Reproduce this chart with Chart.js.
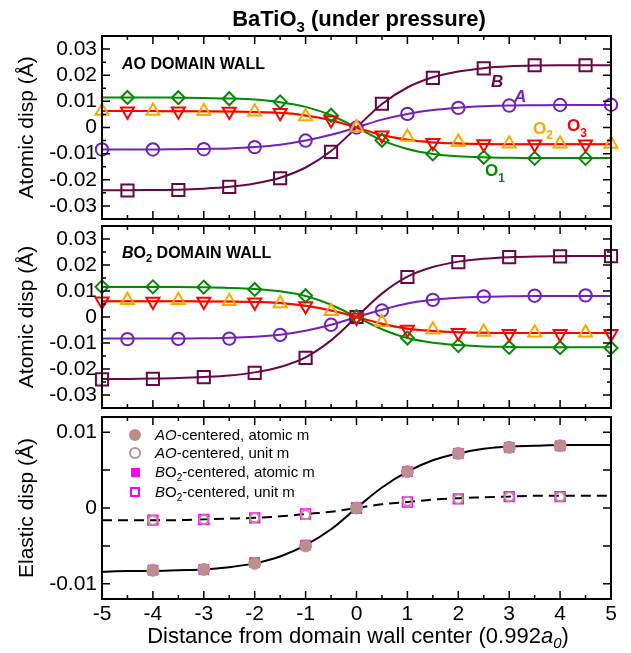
<!DOCTYPE html>
<html>
<head>
<meta charset="utf-8">
<script src="https://cdn.jsdelivr.net/npm/chart.js@4.4.0/dist/chart.umd.min.js"></script>
<style>
  html, body { margin: 0; padding: 0; background: #fff; }
  #wrap { position: relative; width: 631px; height: 653px; overflow: hidden; }
  #wrap canvas { position: absolute; left: 0; top: 0; }
  #labels { position: absolute; left: 0; top: 0; font-family: "Liberation Sans", Arial, Helvetica, sans-serif; }
</style>
</head>
<body>
<div id="wrap">
  <canvas id="panelAO" width="631" height="653"></canvas>
  <canvas id="panelBO2" width="631" height="653"></canvas>
  <canvas id="panelElastic" width="631" height="653"></canvas>
  <svg id="labels" width="631" height="653" xmlns="http://www.w3.org/2000/svg">
    <text x="359" y="26" text-anchor="middle" font-size="22" font-weight="bold">BaTiO<tspan font-size="15" dy="6">3</tspan><tspan dy="-6"> (under pressure)</tspan></text>

    <text x="122" y="69" font-size="16" font-weight="bold"><tspan font-style="italic">A</tspan>O DOMAIN WALL</text>
    <text x="491" y="87" font-size="17" font-weight="bold" font-style="italic" fill="#670748">B</text>
    <text x="514" y="102" font-size="17" font-weight="bold" font-style="italic" fill="#7221bc">A</text>
    <text x="533" y="134" font-size="17" font-weight="bold" fill="#ffa500">O<tspan font-size="12" dy="5">2</tspan></text>
    <text x="567" y="131" font-size="17" font-weight="bold" fill="#ff0000">O<tspan font-size="12" dy="6">3</tspan></text>
    <text x="485" y="176" font-size="17" font-weight="bold" fill="#008b00">O<tspan font-size="12" dy="6">1</tspan></text>

    <text x="122" y="258" font-size="16" font-weight="bold"><tspan font-style="italic">B</tspan>O<tspan font-size="11" dy="4">2</tspan><tspan dy="-4"> DOMAIN WALL</tspan></text>

    <circle cx="135" cy="435" r="6" fill="#bc8f8f"/>
    <circle cx="135" cy="453" r="5" fill="none" stroke="#bc8f8f" stroke-width="2"/>
    <rect x="131" y="468" width="9" height="9" fill="#ff00ff"/>
    <rect x="131" y="488" width="8" height="8" fill="none" stroke="#ff00ff" stroke-width="2"/>
    <text x="155" y="440" font-size="15"><tspan font-style="italic">AO</tspan>-centered, atomic m</text>
    <text x="155" y="458" font-size="15"><tspan font-style="italic">AO</tspan>-centered, unit m</text>
    <text x="155" y="477" font-size="15"><tspan font-style="italic">B</tspan>O<tspan font-size="10" dy="4">2</tspan><tspan dy="-4">-centered, atomic m</tspan></text>
    <text x="155" y="497" font-size="15"><tspan font-style="italic">B</tspan>O<tspan font-size="10" dy="4">2</tspan><tspan dy="-4">-centered, unit m</tspan></text>

    <text x="358" y="643" text-anchor="middle" font-size="22">Distance from domain wall center (0.992<tspan font-style="italic">a</tspan><tspan font-style="italic" font-size="15" dy="5">0</tspan><tspan dy="-5">)</tspan></text>
  </svg>
</div>
<script>
// positions along the wall normal
const xInt = [-5, -4, -3, -2, -1, 0, 1, 2, 3, 4, 5];
const xHalf = [-4.5, -3.5, -2.5, -1.5, -0.5, 0.5, 1.5, 2.5, 3.5, 4.5];
const xCenter = [-4, -3, -2, -1, 0, 1, 2, 3, 4];
const xFit = [-5, -4.5, -4, -3.5, -3, -2.5, -2, -1.5, -1, -0.5, 0, 0.5, 1, 1.5, 2, 2.5, 3, 3.5, 4, 4.5, 5];

// tick values
const xTicks = [-5, -4, -3, -2, -1, 0, 1, 2, 3, 4, 5];
const xMinorTicks = [-4.5, -3.5, -2.5, -1.5, -0.5, 0.5, 1.5, 2.5, 3.5, 4.5];
const yTicksAtomic = [-0.03, -0.02, -0.01, 0, 0.01, 0.02, 0.03];
const yMinorAtomic = [-0.025, -0.015, -0.005, 0.005, 0.015, 0.025];
const yTicksElastic = [-0.01, 0, 0.01];
const yMajorElastic = [-0.01, -0.005, 0, 0.005, 0.01];

// AO domain wall: markers
const aoB = [-0.0241, -0.0239, -0.0227, -0.0194, -0.0093, 0.0091, 0.0190, 0.0226, 0.0238, 0.0238];
const aoA = [-0.0084, -0.0084, -0.0083, -0.0075, -0.0050, 0.0000, 0.0052, 0.0075, 0.0084, 0.0086, 0.0087];
const aoO1 = [0.0115, 0.0114, 0.0110, 0.0098, 0.0047, -0.0049, -0.0101, -0.0114, -0.0118, -0.0118];
const aoO2 = [0.0063, 0.0063, 0.0062, 0.0060, 0.0042, 0.0000, -0.0036, -0.0055, -0.0062, -0.0062, -0.0063];
const aoO3 = [0.0062, 0.0062, 0.0061, 0.0056, 0.0029, -0.0030, -0.0058, -0.0063, -0.0064, -0.0064];
// AO domain wall: fitted curves (read along xFit)
const aoBFit = [-0.0240, -0.0240, -0.0239, -0.0238, -0.0234, -0.0227, -0.0214, -0.0192, -0.0153, -0.0090, 0, 0.0090, 0.0153, 0.0192, 0.0214, 0.0227, 0.0234, 0.0237, 0.0238, 0.0238, 0.0238];
const aoAFit = [-0.0084, -0.0084, -0.0084, -0.0083, -0.0082, -0.0080, -0.0075, -0.0066, -0.0050, -0.0028, 0, 0.0030, 0.0052, 0.0067, 0.0076, 0.0081, 0.0084, 0.0085, 0.0086, 0.0086, 0.0086];
const aoO1Fit = [0.0115, 0.0115, 0.0115, 0.0114, 0.0113, 0.0111, 0.0107, 0.0097, 0.0079, 0.0047, 0, -0.0049, -0.0082, -0.0101, -0.0110, -0.0114, -0.0116, -0.0117, -0.0117, -0.0117, -0.0117];
const aoO2Fit = [0.0063, 0.0063, 0.0063, 0.0062, 0.0062, 0.0061, 0.0059, 0.0056, 0.0046, 0.0028, 0, -0.0029, -0.0046, -0.0056, -0.0060, -0.0062, -0.0063, -0.0063, -0.0063, -0.0063, -0.0063];
const aoO3Fit = [0.0063, 0.0063, 0.0063, 0.0062, 0.0062, 0.0061, 0.0059, 0.0056, 0.0046, 0.0028, 0, -0.0029, -0.0047, -0.0057, -0.0061, -0.0063, -0.0064, -0.0064, -0.0064, -0.0064, -0.0064];

// BO2 domain wall: markers
const boB = [-0.0240, -0.0238, -0.0231, -0.0215, -0.0157, 0.0000, 0.0154, 0.0211, 0.0230, 0.0233, 0.0234];
const boA = [-0.0085, -0.0084, -0.0083, -0.0069, -0.0030, 0.0025, 0.0066, 0.0079, 0.0082, 0.0083];
const boO1 = [0.0116, 0.0116, 0.0115, 0.0106, 0.0082, 0.0001, -0.0081, -0.0110, -0.0117, -0.0118, -0.0119];
const boO2 = [0.0064, 0.0064, 0.0061, 0.0052, 0.0022, -0.0020, -0.0049, -0.0058, -0.0061, -0.0061];
const boO3 = [0.0061, 0.0060, 0.0060, 0.0057, 0.0042, -0.0002, -0.0048, -0.0061, -0.0064, -0.0064, -0.0064];
// BO2 domain wall: fitted curves
const boBFit = [-0.0238, -0.0238, -0.0237, -0.0235, -0.0231, -0.0225, -0.0213, -0.0192, -0.0155, -0.0090, 0, 0.0090, 0.0155, 0.0192, 0.0213, 0.0224, 0.0230, 0.0233, 0.0234, 0.0235, 0.0235];
const boAFit = [-0.0083, -0.0083, -0.0083, -0.0083, -0.0082, -0.0080, -0.0076, -0.0068, -0.0053, -0.0030, 0, 0.0028, 0.0052, 0.0066, 0.0074, 0.0078, 0.0080, 0.0081, 0.0081, 0.0081, 0.0081];
const boO1Fit = [0.0115, 0.0115, 0.0115, 0.0115, 0.0114, 0.0112, 0.0108, 0.0099, 0.0081, 0.0047, 0, -0.0047, -0.0081, -0.0099, -0.0108, -0.0113, -0.0115, -0.0116, -0.0116, -0.0116, -0.0116];
const boO2Fit = [0.0061, 0.0061, 0.0061, 0.0061, 0.0060, 0.0060, 0.0058, 0.0054, 0.0043, 0.0025, 0, -0.0026, -0.0045, -0.0054, -0.0059, -0.0061, -0.0062, -0.0062, -0.0062, -0.0062, -0.0062];
const boO3Fit = [0.0061, 0.0061, 0.0061, 0.0061, 0.0060, 0.0060, 0.0058, 0.0054, 0.0043, 0.0025, 0, -0.0026, -0.0045, -0.0054, -0.0059, -0.0061, -0.0062, -0.0062, -0.0062, -0.0062, -0.0062];

// elastic displacement
const elAOatomic = [-0.0082, -0.0081, -0.0073, -0.0050, 0.0000, 0.0048, 0.0072, 0.0080, 0.0082];
const elAOunit = [-0.0016, -0.0015, -0.0013, -0.0009, 0.0000, 0.0009, 0.0012, 0.0015, 0.0015];
const elBOatomic = [-0.0082, -0.0081, -0.0072, -0.0049, 0.0000, 0.0048, 0.0072, 0.0080, 0.0082];
const elBOunit = [-0.0016, -0.0015, -0.0013, -0.0008, 0.0000, 0.0008, 0.0012, 0.0015, 0.0015];
const elAtomicFit = [-0.0084, -0.0083, -0.0083, -0.0082, -0.0081, -0.0078, -0.0073, -0.0064, -0.0049, -0.0028, 0, 0.0027, 0.0048, 0.0063, 0.0072, 0.0078, 0.0081, 0.0082, 0.0083, 0.0083, 0.0083];
const elUnitFit = [-0.0016, -0.0016, -0.0016, -0.0016, -0.0015, -0.0014, -0.0013, -0.0011, -0.0008, -0.0005, 0, 0.0005, 0.0008, 0.0011, 0.0013, 0.0014, 0.0015, 0.0016, 0.0016, 0.0016, 0.0016];

const FONT = '"Liberation Sans", Arial, Helvetica, sans-serif';
const MAROON = '#670748', INDIGO = '#7221bc', GREEN = '#008b00', ORANGE = '#ffa500', RED = '#ff0000';
const BROWN = '#bc8f8f', MAGENTA = '#ff00ff';

Chart.defaults.font.family = FONT;
Chart.defaults.color = '#000';

const pts = (xs, ys) => xs.map((x, i) => ({ x: x, y: ys[i] }));

function markers(label, xs, ys, color, style, radius, opts) {
    return Object.assign({
        label: label,
        data: pts(xs, ys),
        showLine: false,
        pointStyle: style,
        pointRadius: radius,
        pointHoverRadius: radius,
        pointBorderWidth: 2,
        pointBorderColor: color,
        pointBackgroundColor: 'rgba(0,0,0,0)',
        borderColor: color,
        clip: false
    }, opts || {});
}

function fitLine(label, ys, color, dash) {
    return {
        label: label,
        data: pts(xFit, ys),
        borderColor: color,
        borderWidth: 2,
        borderDash: dash || [],
        pointRadius: 0,
        cubicInterpolationMode: 'monotone',
        fill: false
    };
}

const fmt = v => (Math.abs(v) < 1e-9 ? '0' : String(Math.round(v * 1000) / 1000));

// frame and inward ticks, like the original plot
const frameTicks = {
    id: 'frameTicks',
    afterDatasetsDraw(chart, args, opts) {
        const { ctx, chartArea: a } = chart;
        const xs = chart.scales.x, ys = chart.scales.y;
        ctx.save();
        ctx.strokeStyle = '#000';
        ctx.lineWidth = 1.5;
        ctx.beginPath();
        const tickX = (vals, len) => vals.forEach(v => {
            const px = xs.getPixelForValue(v);
            ctx.moveTo(px, a.bottom); ctx.lineTo(px, a.bottom - len);
            ctx.moveTo(px, a.top); ctx.lineTo(px, a.top + len);
        });
        const tickY = (vals, len) => vals.forEach(v => {
            const py = ys.getPixelForValue(v);
            ctx.moveTo(a.left, py); ctx.lineTo(a.left + len, py);
            ctx.moveTo(a.right, py); ctx.lineTo(a.right - len, py);
        });
        tickX(opts.xMajor, 8);
        tickX(opts.xMinor, 4);
        tickY(opts.yMajor, 8);
        tickY(opts.yMinor, 4);
        ctx.stroke();
        ctx.lineWidth = 2;
        ctx.strokeRect(a.left, a.top, a.right - a.left, a.bottom - a.top);
        ctx.restore();
    }
};

function makePanel(id, cfg) {
    const xHeight = cfg.showX ? 30 : 0;
    return new Chart(document.getElementById(id), {
        type: 'line',
        data: { datasets: cfg.datasets },
        plugins: [frameTicks],
        options: {
            responsive: false,
            animation: false,
            devicePixelRatio: 1,
            events: [],
            layout: { padding: { left: 0, right: 20, top: cfg.top, bottom: 653 - cfg.bottom - xHeight } },
            plugins: {
                legend: { display: false },
                tooltip: { enabled: false },
                frameTicks: { xMajor: xTicks, xMinor: xMinorTicks, yMajor: cfg.yMajor, yMinor: cfg.yMinor }
            },
            scales: {
                x: {
                    type: 'linear',
                    min: -5,
                    max: 5,
                    grid: { display: false, drawTicks: false },
                    border: { display: false },
                    afterBuildTicks: axis => { axis.ticks = xTicks.map(v => ({ value: v })); },
                    ticks: { display: cfg.showX, padding: 3, font: { size: 21 }, maxRotation: 0, callback: v => String(v) },
                    afterFit: axis => { axis.height = xHeight; axis.paddingLeft = 0; axis.paddingRight = 0; }
                },
                y: {
                    type: 'linear',
                    min: cfg.yMin,
                    max: cfg.yMax,
                    grid: { display: false, drawTicks: false },
                    border: { display: false },
                    afterBuildTicks: axis => { axis.ticks = cfg.yTicks.map(v => ({ value: v })); },
                    ticks: { padding: 5, font: { size: 21 }, callback: v => fmt(v) },
                    title: { display: true, text: cfg.yTitle, font: { size: 21 }, padding: { top: 15, bottom: 0 } },
                    afterFit: axis => { axis.width = 102; axis.paddingTop = 0; axis.paddingBottom = 0; }
                }
            }
        }
    });
}

makePanel('panelAO', {
    top: 36, bottom: 219, yMin: -0.035, yMax: 0.035,
    yTicks: yTicksAtomic, yMajor: yTicksAtomic, yMinor: yMinorAtomic,
    yTitle: 'Atomic disp (Å)', showX: false,
    datasets: [
        markers('O3', xHalf, aoO3, RED, 'triangle', 7.5, { pointRotation: 180 }),
        markers('O2', xInt, aoO2, ORANGE, 'triangle', 7.5),
        markers('O1', xHalf, aoO1, GREEN, 'rectRot', 6.5),
        markers('A', xInt, aoA, INDIGO, 'circle', 6.2),
        markers('B', xHalf, aoB, MAROON, 'rect', 8.6),
        fitLine('O3 fit', aoO3Fit, RED),
        fitLine('O2 fit', aoO2Fit, ORANGE),
        fitLine('O1 fit', aoO1Fit, GREEN),
        fitLine('A fit', aoAFit, INDIGO),
        fitLine('B fit', aoBFit, MAROON)
    ]
});

makePanel('panelBO2', {
    top: 226, bottom: 408, yMin: -0.035, yMax: 0.035,
    yTicks: yTicksAtomic, yMajor: yTicksAtomic, yMinor: yMinorAtomic,
    yTitle: 'Atomic disp (Å)', showX: false,
    datasets: [
        markers('O3', xInt, boO3, RED, 'triangle', 7.5, { pointRotation: 180 }),
        markers('O2', xHalf, boO2, ORANGE, 'triangle', 7.5),
        markers('O1', xInt, boO1, GREEN, 'rectRot', 6.5),
        markers('A', xHalf, boA, INDIGO, 'circle', 6.2),
        markers('B', xInt, boB, MAROON, 'rect', 8.6),
        fitLine('O3 fit', boO3Fit, RED),
        fitLine('O2 fit', boO2Fit, ORANGE),
        fitLine('O1 fit', boO1Fit, GREEN),
        fitLine('A fit', boAFit, INDIGO),
        fitLine('B fit', boBFit, MAROON)
    ]
});

makePanel('panelElastic', {
    top: 417, bottom: 599, yMin: -0.012, yMax: 0.012,
    yTicks: yTicksElastic, yMajor: yMajorElastic, yMinor: [],
    yTitle: 'Elastic disp (Å)', showX: true,
    datasets: [
        markers('AO-centered, atomic m', xCenter, elAOatomic, BROWN, 'circle', 6, { pointBackgroundColor: BROWN, pointBorderWidth: 1 }),
        markers('AO-centered, unit m', xCenter, elAOunit, BROWN, 'circle', 4.5, { pointBorderWidth: 2 }),
        markers('BO2-centered, atomic m', xCenter, elBOatomic, MAGENTA, 'rect', 7, { pointBackgroundColor: MAGENTA, pointBorderWidth: 1 }),
        markers('BO2-centered, unit m', xCenter, elBOunit, MAGENTA, 'rect', 7, { pointBorderWidth: 1.5 }),
        fitLine('atomic m fit', elAtomicFit, '#000'),
        fitLine('unit m fit', elUnitFit, '#000', [10, 6])
    ]
});
</script>
</body>
</html>
